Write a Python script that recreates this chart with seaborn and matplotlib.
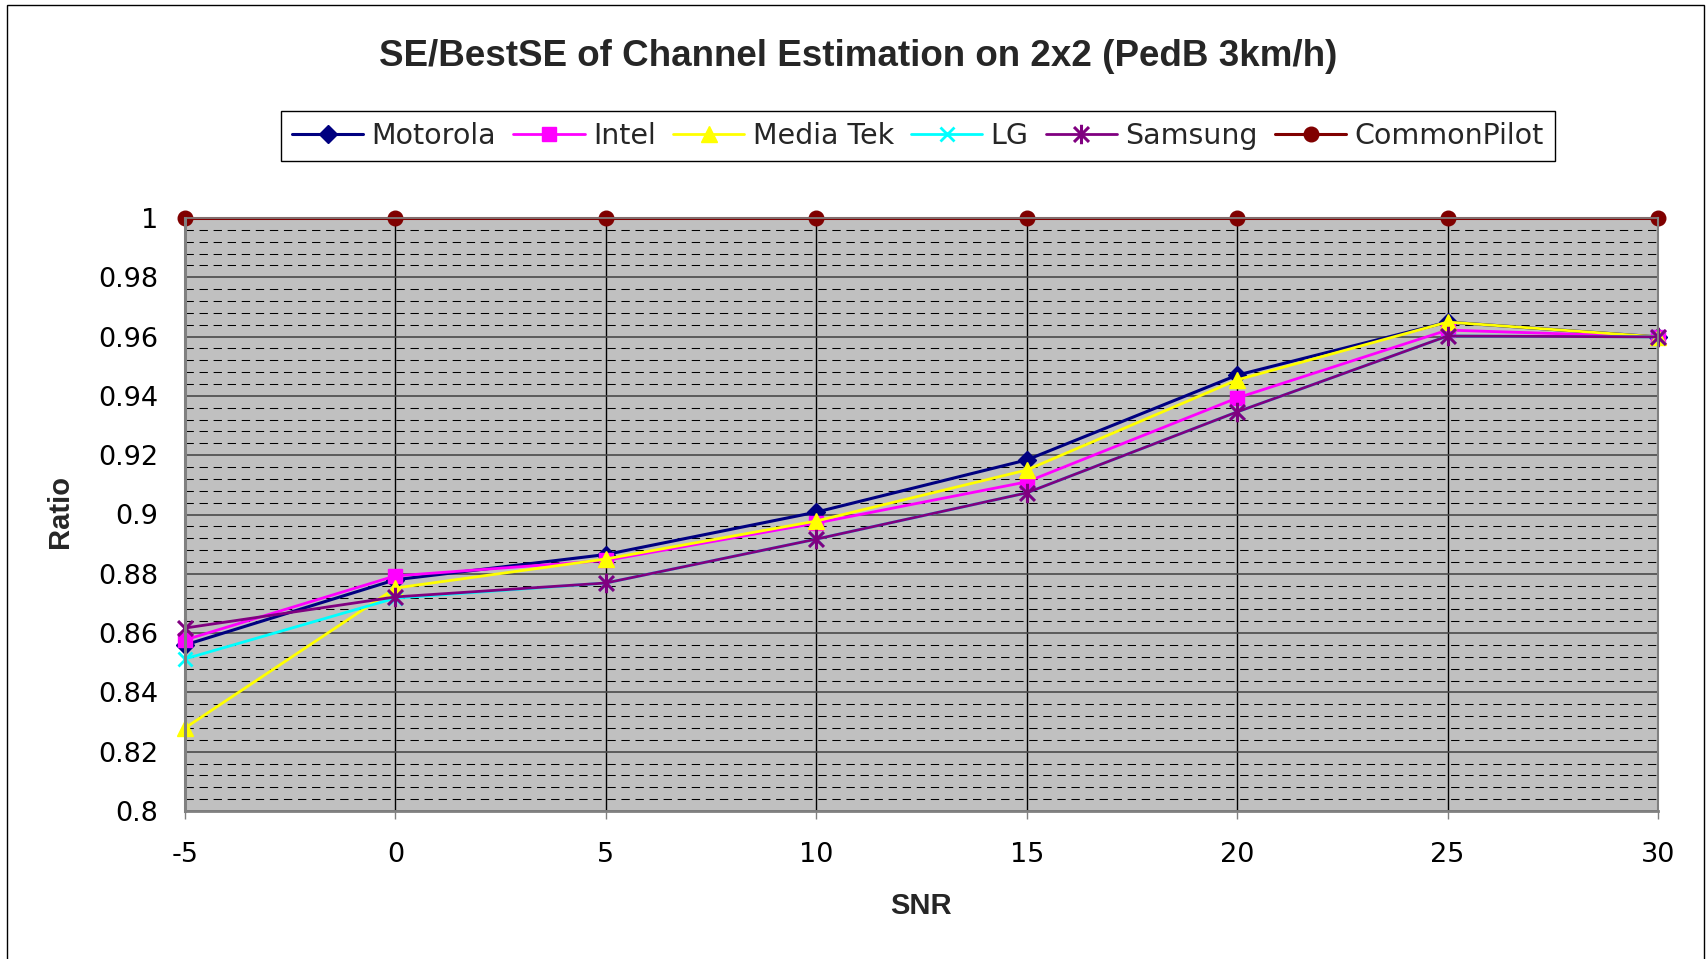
"""
SE/BestSE of channel estimation on 2x2 (PedB 3km/h)
"""
import matplotlib
matplotlib.use("Agg")
import matplotlib.pyplot as plt
from matplotlib.path import Path
from matplotlib.patches import Rectangle
from matplotlib.ticker import MultipleLocator, FuncFormatter
import seaborn as sns

# data
snr = [-5, 0, 5, 10, 15, 20, 25, 30]
motorola = [0.856, 0.878, 0.8865, 0.9008, 0.9184, 0.947, 0.9649, 0.9599]
intel = [0.8577, 0.8793, 0.8845, 0.8971, 0.911, 0.9393, 0.9622, 0.9599]
mediatek = [0.828, 0.8752, 0.885, 0.8978, 0.915, 0.9454, 0.9649, 0.9599]
lg = [0.8513, 0.8718, 0.8769, 0.8917, 0.9073, 0.9346, 0.9602, 0.9599]
samsung = [0.8617, 0.8722, 0.8769, 0.8917, 0.9073, 0.9346, 0.9602, 0.9599]
common_pilot = [1.0, 1.0, 1.0, 1.0, 1.0, 1.0, 1.0, 1.0]

series_names = ["Motorola", "Intel", "Media Tek", "LG", "Samsung", "CommonPilot"]
series_values = [motorola, intel, mediatek, lg, samsung, common_pilot]

# excel style "star": an x with a vertical stroke through it
star = Path([(-1, -1), (1, 1), (-1, 1), (1, -1), (0, -1.3), (0, 1.3)],
            [Path.MOVETO, Path.LINETO, Path.MOVETO, Path.LINETO, Path.MOVETO, Path.LINETO])

styles = {
    "Motorola":    dict(color="#000080", marker="D", markersize=9, markeredgewidth=1, lw=2.2),
    "Intel":       dict(color="#FF00FF", marker="s", markersize=10, markeredgewidth=1, lw=2.0),
    "Media Tek":   dict(color="#FFFF00", marker="^", markersize=12, markeredgewidth=1, lw=2.0),
    "LG":          dict(color="#00FFFF", marker="x", markersize=10.5, markeredgewidth=2, lw=2.0),
    "Samsung":     dict(color="#800080", marker=star, markersize=14, markeredgewidth=2.2, lw=2.0),
    "CommonPilot": dict(color="#800000", marker="o", markersize=10.5, markeredgewidth=1, lw=2.2),
}

sns.set_theme(style="white")
plt.rcParams['font.family'] = ['DejaVu Sans']
plt.rcParams['axes.unicode_minus'] = False

fig = plt.figure(figsize=(17.08, 9.59), dpi=100)
ax = fig.add_axes([185 / 1708, 1 - 811 / 959, 1473 / 1708, 593 / 959])
ax.set_facecolor("#C0C0C0")

for name, vals in zip(series_names, series_values):
    st = styles[name]
    sns.lineplot(x=snr, y=vals, ax=ax, label=name, errorbar=None,
                 color=st["color"], marker=st["marker"], markersize=st["markersize"],
                 markeredgecolor=st["color"], markerfacecolor=st["color"],
                 markeredgewidth=st["markeredgewidth"], lw=st["lw"], clip_on=False)

ax.set_xlim(-5, 30)
ax.set_ylim(0.8, 1.0)
ax.xaxis.set_major_locator(MultipleLocator(5))
ax.yaxis.set_major_locator(MultipleLocator(0.02))
ax.yaxis.set_minor_locator(MultipleLocator(0.004))
ax.yaxis.set_major_formatter(FuncFormatter(lambda v, p: f"{v:g}"))

# grid: vertical black, horizontal major solid, minor dashed
ax.set_axisbelow(True)
ax.grid(True, axis="x", which="major", color="black", lw=1, ls="-")
ax.grid(True, axis="y", which="major", color="#4a4a4a", lw=1.2, ls="-")
ax.grid(True, axis="y", which="minor", color="black", lw=0.75, ls=(0, (8, 5.5)))

for side in ["left", "bottom", "right", "top"]:
    ax.spines[side].set_color("#808080")
ax.spines["left"].set_linewidth(2.2)
ax.spines["bottom"].set_linewidth(2.0)
ax.spines["right"].set_linewidth(1.5)

ax.tick_params(axis="x", which="major", length=6, width=1, color="#808080",
               direction="out", pad=16, labelsize=19.5, labelcolor="black", bottom=True)
ax.tick_params(axis="y", which="both", length=0, pad=19, labelsize=19.5, labelcolor="black")
ax.set_xlabel("")
ax.set_ylabel("")

fig.text(858 / 1708, 1 - 56 / 959, "SE/BestSE of Channel Estimation on 2x2 (PedB 3km/h)",
         ha="center", va="center", fontsize=26.5, fontweight="bold", family="Liberation Sans")
fig.text(921 / 1708, 1 - 906 / 959, "SNR", ha="center", va="center",
         fontsize=21, fontweight="bold", family="Liberation Sans")
fig.text(60 / 1708, 1 - 512 / 959, "Ratio", ha="center", va="center", rotation=90,
         fontsize=21, fontweight="bold", family="Liberation Sans")

handles, labels = ax.get_legend_handles_labels()
ax.get_legend().remove()
leg = fig.legend(handles, labels, loc="center", bbox_to_anchor=(918 / 1708, 1 - 136 / 959),
                 ncol=6, fontsize=20.5, frameon=True, fancybox=False, framealpha=1,
                 edgecolor="black", handlelength=2.5, handletextpad=0.3,
                 columnspacing=0.6, borderpad=0.4, numpoints=1)
leg.get_frame().set_linewidth(1)

# outer chart border
fig.patches.append(Rectangle((7 / 1708, -0.01), 1697 / 1708, 1 - 5 / 959 + 0.01,
                             transform=fig.transFigure, fill=False,
                             edgecolor="black", lw=1))

fig.savefig("out.png", dpi=100)
